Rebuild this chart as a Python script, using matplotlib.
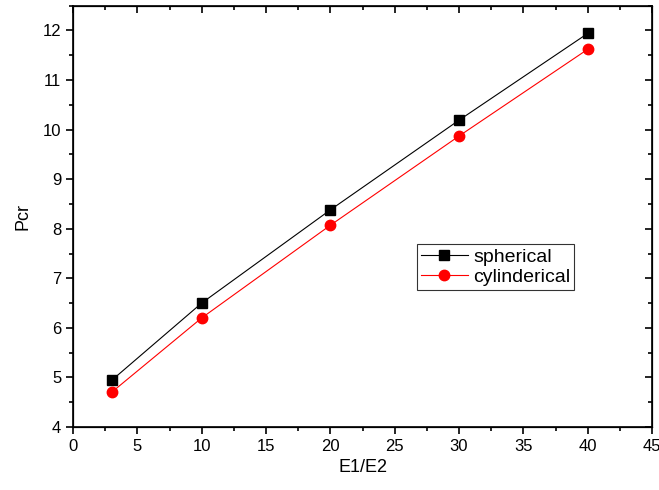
import matplotlib
matplotlib.use("Agg")
import matplotlib.pyplot as plt
from matplotlib.ticker import MultipleLocator

plt.rcParams['font.family'] = ['Liberation Sans', 'DejaVu Sans']

x = [3, 10, 20, 30, 40]
spherical = [4.94, 6.50, 8.38, 10.19, 11.94]
cylinderical = [4.70, 6.20, 8.07, 9.87, 11.62]

fig = plt.figure(figsize=(6.59, 4.90), dpi=100)
ax = fig.add_axes([73/659, 1-427/490, (652-73)/659, (427-5.7)/490])

ax.plot(x, spherical, color='black', lw=0.8, marker='s', ms=6.5, label='spherical')
ax.plot(x, cylinderical, color='red', lw=0.8, marker='o', ms=7.5, label='cylinderical')

ax.set_xlim(0, 45)
ax.set_ylim(4, 12.5)
ax.xaxis.set_major_locator(MultipleLocator(5))
ax.xaxis.set_minor_locator(MultipleLocator(2.5))
ax.yaxis.set_major_locator(MultipleLocator(1))
ax.yaxis.set_minor_locator(MultipleLocator(0.5))

ax.tick_params(which='both', direction='out', top=False, right=False, labelsize=12, width=1.2)
ax.tick_params(which='major', length=5)
ax.tick_params(which='minor', length=3)
for spine in ax.spines.values():
    spine.set_linewidth(1.2)

# inward ticks on top & right
axt = ax.twiny()
axt.set_xlim(ax.get_xlim())
axt.xaxis.set_major_locator(MultipleLocator(5))
axt.xaxis.set_minor_locator(MultipleLocator(2.5))
axt.tick_params(which='both', direction='in', labeltop=False, width=1.2)
axt.tick_params(which='major', length=5)
axt.tick_params(which='minor', length=3)
axr = ax.twinx()
axr.set_ylim(ax.get_ylim())
axr.yaxis.set_major_locator(MultipleLocator(1))
axr.yaxis.set_minor_locator(MultipleLocator(0.5))
axr.tick_params(which='both', direction='in', labelright=False, width=1.2)
axr.tick_params(which='major', length=5)
axr.tick_params(which='minor', length=3)

ax.set_xlabel('E1/E2', fontsize=13, labelpad=4)
ax.set_ylabel('Pcr', fontsize=13, labelpad=8)

leg = ax.legend(loc='upper left', bbox_to_anchor=(344/579, 1-(244-5.7)/421.3), fontsize=14,
                frameon=True, fancybox=False, edgecolor='black', borderpad=0.2,
                handlelength=2.4, handletextpad=0.3, labelspacing=0.15, borderaxespad=0)
leg.get_frame().set_linewidth(0.8)

fig.savefig('out.png', dpi=100)
